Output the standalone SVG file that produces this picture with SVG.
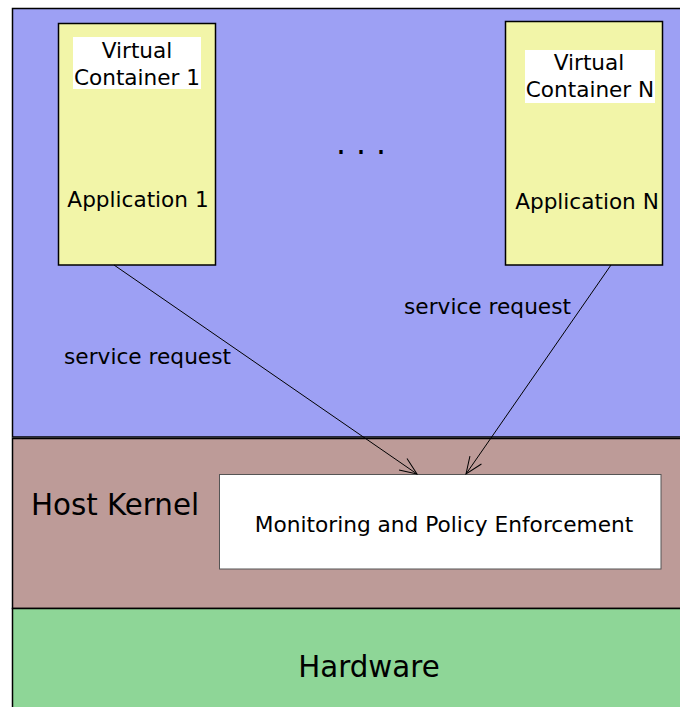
<svg xmlns="http://www.w3.org/2000/svg" width="680" height="707" viewBox="0 0 680 707">
<style>
text{font-family:"DejaVu Sans","Liberation Sans",sans-serif;fill:#000}
.lbl{font-size:21.6px;text-anchor:middle}
.sr{font-size:21.7px}
.big{font-size:29.3px}
.cont{fill:#f2f5a8;stroke:#000;stroke-width:1.5}
.wbox{fill:#fff;stroke:none}
.conn{stroke:#000;stroke-width:1;fill:none}
</style>
<defs>
<marker id="arr" markerWidth="22" markerHeight="22" refX="18" refY="8" orient="auto" markerUnits="userSpaceOnUse">
<path d="M1,1 L18,8 L1,15" fill="none" stroke="#000" stroke-width="1"/>
</marker>
</defs>
<g id="userspace">
<rect x="12.5" y="8.5" width="680" height="428.5" fill="#9da0f4" stroke="#000" stroke-width="1.5"/>
<text x="336" y="154" style="font-size:31.5px">. . .</text>
</g>
<g id="kernel">
<rect x="12.5" y="438.5" width="680" height="170" fill="#bd9b98" stroke="#000" stroke-width="1.5"/>
<text class="big" x="31" y="515">Host Kernel</text>
</g>
<g id="hardware">
<rect x="12.5" y="608.5" width="680" height="110" fill="#8ed697" stroke="#000" stroke-width="1.5"/>
<text class="big" x="369" y="677" text-anchor="middle">Hardware</text>
</g>
<g id="container1">
<rect class="cont" x="58.5" y="23.5" width="157" height="241.5"/>
<rect class="wbox" x="73" y="37" width="128" height="52"/>
<text class="lbl" x="137" y="58">Virtual</text>
<text class="lbl" x="137" y="84.5">Container 1</text>
<text class="lbl" x="138" y="207">Application 1</text>
</g>
<g id="containerN">
<rect class="cont" x="505.5" y="21.5" width="157" height="243.5"/>
<rect class="wbox" x="525" y="50" width="130" height="53"/>
<text class="lbl" x="589" y="70">Virtual</text>
<text class="lbl" x="590" y="97">Container N</text>
<text class="lbl" x="587" y="208.5">Application N</text>
</g>
<g id="monitor">
<rect x="219.5" y="474.5" width="441.5" height="94.5" fill="#fff" stroke="#555" stroke-width="1"/>
<text x="444" y="531.5" style="font-size:21.7px" text-anchor="middle">Monitoring and Policy Enforcement</text>
</g>
<g id="connectors">
<line class="conn" x1="114" y1="265" x2="417" y2="474" marker-end="url(#arr)"/>
<line class="conn" x1="611" y1="265" x2="466" y2="474" marker-end="url(#arr)"/>
<text class="sr" x="64" y="364">service request</text>
<text class="sr" x="404" y="314">service request</text>
</g>
</svg>
